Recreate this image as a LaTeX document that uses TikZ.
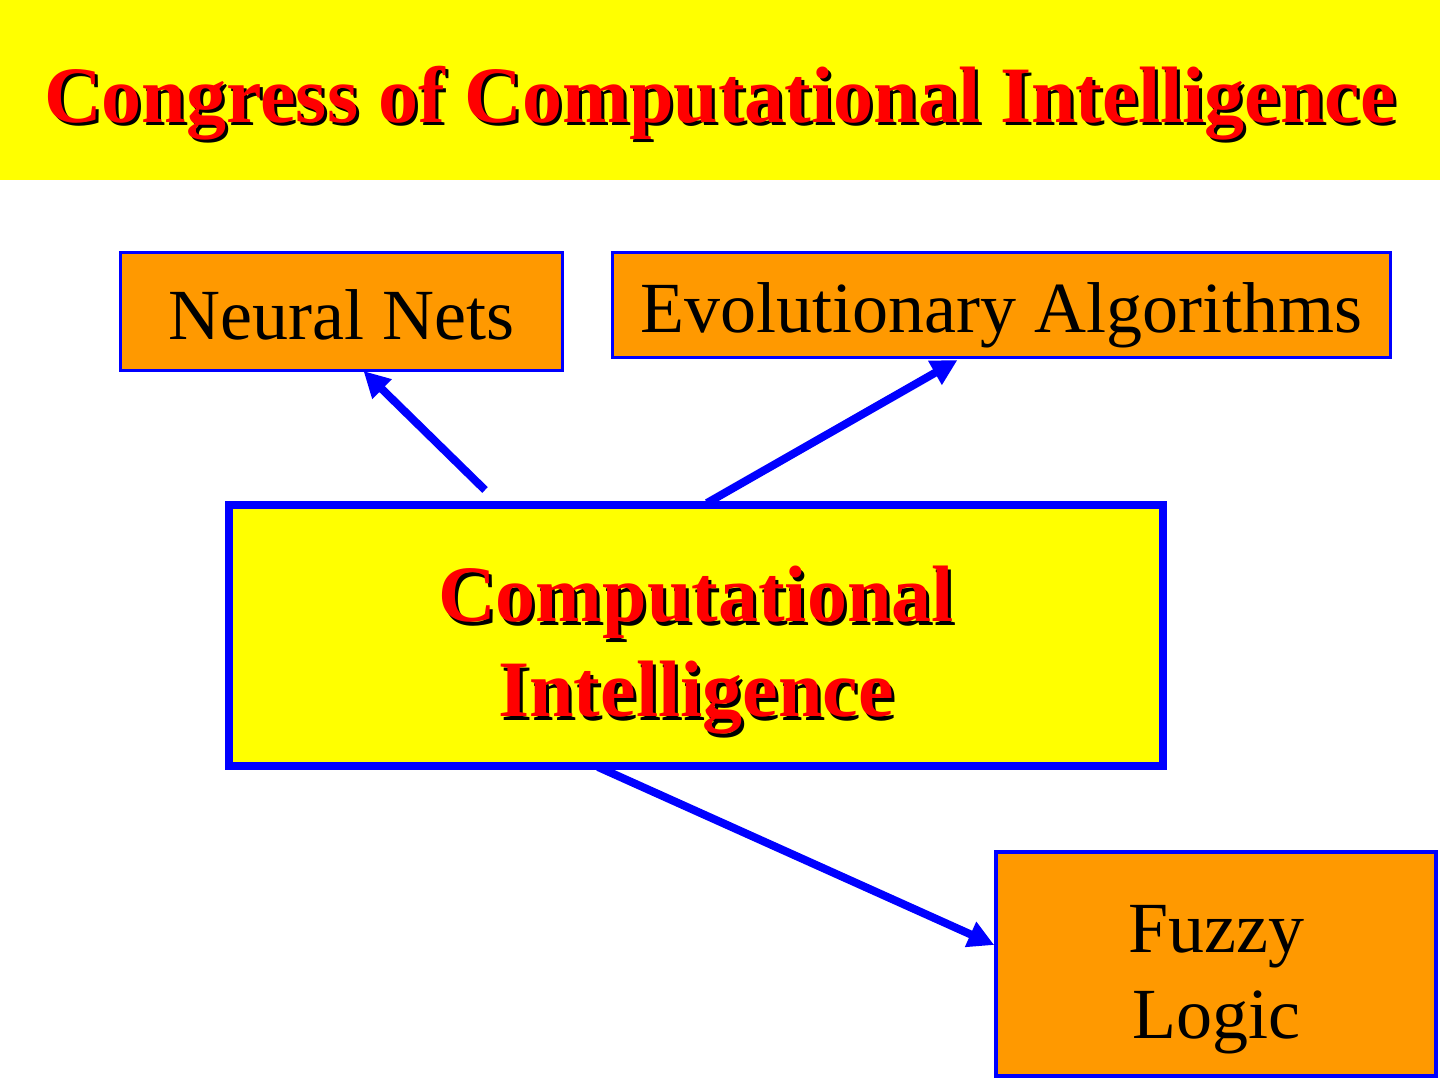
\documentclass[tikz,border=0pt]{standalone}
\usepackage{fontspec}
\setmainfont{Liberation Serif}
\usetikzlibrary{arrows.meta}

\definecolor{slideyellow}{HTML}{FFFF00}
\definecolor{boxorange}{HTML}{FF9900}
\definecolor{slideblue}{HTML}{0000FF}
\definecolor{slidered}{HTML}{FF0000}

\newcommand{\shadowed}[1]{\leavevmode\rlap{\kern3pt\raisebox{-3pt}{\color{black}#1}}{\color{slidered}#1}}

\begin{document}
\begin{tikzpicture}[x=1pt,y=1pt,
    box/.style={draw=slideblue, fill=boxorange, line width=3pt, inner sep=0pt,
        align=center, font=\fontsize{72}{86}\selectfont},
    link/.style={draw=slideblue, line width=8pt, -{Triangle[length=26pt,width=26pt]}}]
            \useasboundingbox (0,0) rectangle (1440,1080);
            \fill[white] (0,0) rectangle (1440,1080);
            \fill[slideyellow] (0,900) rectangle (1440,1080);

            \node[anchor=base, font=\fontsize{80}{95}\selectfont\bfseries] (title) at (720,957)
                {\shadowed{Congress of Computational Intelligence}};

            \node[box, minimum width=442, minimum height=118, text height=60pt, text depth=3pt]
                (nets) at (341.5,768.5) {Neural Nets};
            \node[box, minimum width=778, minimum height=105, text height=60pt, text depth=4pt]
                (evo) at (1001.5,775) {Evolutionary Algorithms};
            \node[box, fill=slideyellow, line width=8pt, minimum width=934, minimum height=261,
                font=\fontsize{80}{95}\selectfont\bfseries, text height=170pt, text depth=7pt]
                (ci) at (696,444.5) {\shadowed{Computational}\\\shadowed{Intelligence}};
            \node[box, line width=3.5pt, minimum width=440, minimum height=224,
                text height=150pt, text depth=2pt]
                (fuzzy) at (1216,116) {Fuzzy\\Logic};

            \draw[link] ([xshift=-211pt,yshift=11pt]ci.north) -- ([xshift=22pt,yshift=1pt]nets.south);
            \draw[link] ([xshift=11pt,yshift=-2pt]ci.north) -- ([xshift=-44pt,yshift=-1pt]evo.south);
            \draw[link] ([xshift=-98pt,yshift=3pt]ci.south) -- ([yshift=19pt]fuzzy.west);
        \end{tikzpicture}
\end{document}
